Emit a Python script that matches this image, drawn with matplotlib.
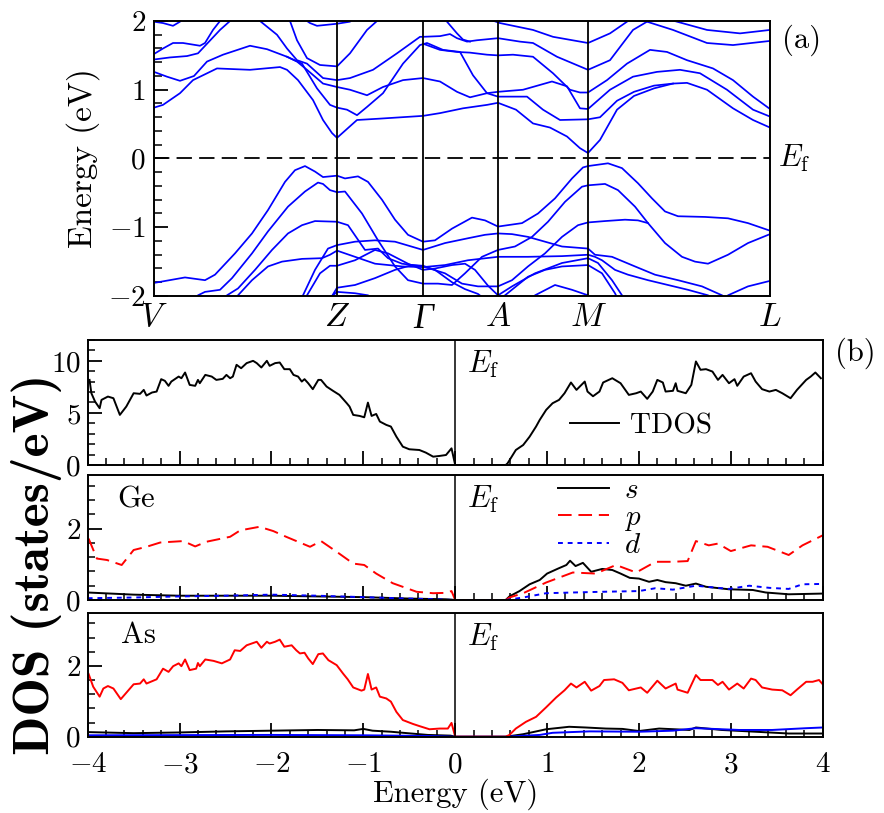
import numpy as np
import matplotlib
matplotlib.use("Agg")
import matplotlib.pyplot as plt
from matplotlib.ticker import MultipleLocator

plt.rcParams['font.family'] = 'serif'
plt.rcParams['font.serif'] = ['cmr10']
plt.rcParams['mathtext.fontset'] = 'cm'
plt.rcParams['axes.formatter.use_mathtext'] = True
plt.rcParams['axes.unicode_minus'] = True

# ---------------- band structure data (k-path coordinate, energy eV) -------------
kpoints = [0, 183, 269, 344, 434, 616]
klabels = ['$V$', '$Z$', 'Γ', '$A$', '$M$', '$L$']

cb1 = [(0,0.74),(9,0.78),(26,0.95),(39,1.14),(63,1.31),(96,1.29),(126,1.33),(133,1.29),(144,1.14),(159,0.85),
       (169,0.56),(178,0.37),(183,0.30),(203,0.56),(226,0.58),(269,0.62),(286,0.66),(309,0.73),(333,0.78),(344,0.81),
       (362,0.71),(379,0.51),(396,0.45),(413,0.32),(426,0.15),(434,0.08),(446,0.27),(463,0.71),(480,0.91),(500,1.02),
       (519,1.09),(533,1.10),(553,1.00),(579,0.73),(599,0.56),(616,0.45)]
cb2 = [(0,1.26),(13,1.19),(26,1.13),(40,1.20),(53,1.41),(69,1.51),(96,1.64),(113,1.59),(133,1.48),(143,1.41),
       (153,1.29),(169,1.09),(183,1.04),(196,1.00),(213,0.92),(229,1.04),(249,1.14),(269,1.17),(286,1.12),(303,0.97),
       (316,0.89),(333,0.95),(344,0.97),(369,1.00),(398,1.12),(413,1.05),(426,0.73),(434,0.72),(456,1.00),(479,1.19),
       (503,1.26),(526,1.29),(546,1.24),(573,1.00),(599,0.71),(616,0.61)]
cb3 = [(133,1.48),(148,1.38),(163,1.02),(176,0.78),(183,0.74),(193,0.71),(203,0.63),(213,0.75),(229,0.95),(249,1.38),
       (266,1.65),(273,1.68),(289,1.58),(306,1.55),(319,1.21),(333,0.95),(344,0.90),(373,0.90),(389,0.71),(406,0.56),
       (434,0.57),(446,0.60),(463,0.84),(480,0.97),(500,1.06),(519,1.09)]
cb4 = [(104,2.05),(106,2.00),(123,1.80),(133,1.60),(143,1.43),(153,1.38),(169,1.17),(183,1.14),(196,1.17),(219,1.29),
       (243,1.53),(266,1.77),(269,1.77),(286,1.78),(296,1.81),(303,1.75),(313,1.70),(323,1.72),(344,1.75),(366,1.70),
       (379,1.68),(403,1.48),(434,1.29),(456,1.43),(479,1.87),(493,1.99),(498,2.05)]
cb5 = [(133,2.05),(136,2.00),(143,1.72),(153,1.46),(166,1.36),(183,1.34),(196,1.53),(213,1.87),(223,2.00),(227,2.05)]
cb6 = [(148,2.05),(156,1.97),(163,1.93),(183,1.96),(196,1.99),(200,2.05)]
cb7 = [(269,1.67),(286,1.58),(303,1.55),(316,1.54),(333,1.51),(344,1.50),(359,1.51),(379,1.48),(399,1.24),(416,1.00),
       (426,0.96),(434,0.96),(453,1.14),(473,1.38),(496,1.58),(513,1.55),(533,1.43),(559,1.31),(579,1.14),(599,0.90),
       (616,0.72)]
cb8 = [(289,2.05),(293,1.99),(303,1.82),(309,1.73),(316,1.70)]
cb9 = [(330,2.05),(346,1.97),(379,1.87),(399,1.77),(434,1.68),(456,1.82),(473,1.99),(478,2.05)]
cb10 = [(509,2.05),(523,1.99),(553,1.87),(586,1.82),(616,1.87)]
cb11 = [(489,2.05),(493,1.99),(519,1.87),(553,1.68),(579,1.65),(616,1.71)]
cb12 = [(0,1.52),(9,1.60),(19,1.68),(29,1.68),(46,1.64),(51,1.68),(59,1.87),(66,2.00),(68,2.05)]
cb13 = [(0,1.44),(16,1.47),(33,1.49),(44,1.53),(55,1.70),(66,1.87),(76,2.00),(78,2.05)]
cb14 = [(0,1.99),(9,1.97),(19,1.93),(26,1.99),(28,2.05)]

vb1 = [(0,-1.81),(31,-1.73),(51,-1.77),(61,-1.69),(81,-1.38),(98,-1.09),(114,-0.75),(131,-0.34),(141,-0.17),(151,-0.11),
       (161,-0.19),(169,-0.27),(183,-0.25),(191,-0.29),(204,-0.26),(214,-0.34),(228,-0.60),(241,-0.89),(254,-1.11),
       (269,-1.21),(281,-1.19),(298,-1.02),(318,-0.86),(331,-0.90),(344,-0.99),(368,-0.94),(384,-0.80),(401,-0.58),
       (418,-0.29),(429,-0.13),(434,-0.11),(454,-0.07),(468,-0.14),(484,-0.36),(498,-0.58),(511,-0.77),(524,-0.84),
       (551,-0.85),(574,-0.87),(594,-0.94),(616,-1.05)]
vb2 = [(40,-2.05),(44,-1.99),(51,-1.94),(66,-1.91),(78,-1.74),(98,-1.38),(114,-1.06),(134,-0.70),(151,-0.48),
       (164,-0.35),(169,-0.37),(176,-0.46),(183,-0.49),(191,-0.48),(208,-0.80),(224,-1.19),(241,-1.57),(254,-1.77),
       (269,-1.82),(284,-1.82),(298,-1.84),(311,-1.67),(328,-1.43),(344,-1.33),(361,-1.28),(378,-1.14),(394,-0.92),
       (411,-0.63),(428,-0.41),(434,-0.39),(451,-0.37),(464,-0.46),(481,-0.70),(494,-0.94),(511,-1.23),(528,-1.43),
       (541,-1.50),(554,-1.53),(574,-1.40),(594,-1.23),(616,-1.10)]
vb3 = [(70,-2.05),(73,-1.99),(84,-1.89),(101,-1.62),(118,-1.33),(134,-1.09),(148,-0.97),(161,-0.91),(183,-0.92),
       (194,-0.97),(211,-1.33),(224,-1.31),(234,-1.45),(248,-1.53),(269,-1.57),(291,-1.67),(308,-1.82),(324,-1.86),
       (344,-1.86),(358,-1.77),(374,-1.57),(391,-1.38),(408,-1.14),(424,-0.97),(434,-0.93),(451,-0.91),(471,-0.89),
       (484,-0.90),(494,-0.94)]
vb4 = [(80,-2.05),(84,-1.99),(98,-1.77),(114,-1.57),(128,-1.50),(148,-1.46),(168,-1.45),(176,-1.40),(183,-1.34),
       (201,-1.43),(221,-1.53),(248,-1.57),(269,-1.58),(291,-1.55),(314,-1.48),(344,-1.43),(374,-1.43),(408,-1.42),
       (434,-1.40),(441,-1.43),(448,-1.48),(461,-1.62),(474,-1.69),(494,-1.77),(514,-1.84),(534,-1.91),(554,-1.99),
       (560,-2.05)]
vb5 = [(148,-2.05),(149,-1.99),(161,-1.62),(174,-1.31),(183,-1.26),(201,-1.21),(221,-1.19),(241,-1.21),(269,-1.33),
       (291,-1.23),(314,-1.16),(331,-1.11),(344,-1.09),(358,-1.10),(374,-1.14),(391,-1.21),(408,-1.28),(434,-1.31),
       (441,-1.40),(458,-1.43),(481,-1.57),(501,-1.69),(524,-1.77),(548,-1.86),(568,-1.99),(575,-2.05)]
vb6 = [(151,-2.05),(153,-1.99),(166,-1.67),(176,-1.56),(183,-1.56),(201,-1.48),(221,-1.33),(234,-1.38),(254,-1.53),
       (269,-1.62),(281,-1.60),(298,-1.55),(311,-1.53),(321,-1.62),(334,-1.85),(344,-1.99),(358,-1.86),(381,-1.67),
       (408,-1.52),(434,-1.45),(444,-1.52),(458,-1.77),(468,-1.99),(471,-2.05)]
vb7 = [(176,-2.05),(183,-1.88),(201,-1.84),(221,-1.74),(241,-1.62),(258,-1.55),(269,-1.56),(281,-1.62),(298,-1.80),
       (311,-1.90),(324,-1.97),(331,-2.05)]
vb8 = [(348,-2.05),(351,-1.99),(374,-1.72),(391,-1.62),(408,-1.57),(434,-1.55),(448,-1.67),(461,-1.96),(464,-2.05)]
vb9 = [(174,-2.05),(183,-1.94),(201,-1.96),(214,-1.99),(220,-2.05)]
vb10 = [(378,-2.05),(381,-1.99),(401,-1.84),(418,-1.91),(434,-1.99),(440,-2.05)]
vb11 = [(571,-2.05),(574,-1.99),(594,-1.86),(616,-1.78)]

bands = [cb1, cb2, cb3, cb4, cb5, cb6, cb7, cb8, cb9, cb10, cb11, cb12, cb13, cb14,
         vb1, vb2, vb3, vb4, vb5, vb6, vb7, vb8, vb9, vb10, vb11]

# ---------------- DOS data --------------------
tdos_e = [-3.98,-3.96,-3.92,-3.87,-3.85,-3.78,-3.72,-3.65,-3.58,-3.50,-3.43,-3.39,-3.36,-3.30,-3.25,-3.20,-3.16,
          -3.12,-3.09,-3.01,-2.98,-2.94,-2.89,-2.83,-2.80,-2.78,-2.72,-2.65,-2.60,-2.53,-2.49,-2.45,-2.42,-2.38,-2.33,
          -2.27,-2.20,-2.16,-2.11,-2.05,-2.02,-1.96,-1.91,-1.86,-1.80,-1.76,-1.71,-1.67,-1.64,-1.60,-1.55,-1.49,-1.46,
          -1.40,-1.33,-1.26,-1.18,-1.15,-1.11,-1.04,-0.99,-0.95,-0.91,-0.86,-0.82,-0.75,-0.70,-0.64,-0.57,-0.50,-0.39,
          -0.32,-0.24,-0.17,-0.10,-0.04,0.0,
          0.55,0.57,0.66,0.74,0.81,0.88,0.92,0.99,1.06,1.13,1.19,1.26,1.32,1.41,1.44,1.50,1.57,1.61,1.71,1.80,1.89,
          1.97,2.02,2.09,2.15,2.20,2.26,2.29,2.37,2.40,2.42,2.51,2.57,2.62,2.67,2.73,2.80,2.86,2.91,2.98,3.04,3.07,
          3.14,3.22,3.27,3.34,3.42,3.49,3.56,3.65,3.72,3.82,3.87,3.92,3.98]
tdos = [8.17,6.89,6.09,5.45,6.25,6.57,6.41,4.81,5.61,6.89,6.83,7.21,6.67,6.96,7.05,8.24,8.08,7.60,8.01,8.49,8.33,
        8.88,7.69,7.60,8.17,7.85,8.65,8.49,8.17,8.27,8.65,8.33,8.49,9.62,9.29,9.78,10.0,9.78,9.36,10.0,9.52,9.78,
        9.84,9.20,9.20,8.65,8.49,8.01,8.24,7.85,7.28,8.17,8.17,7.53,7.12,6.73,5.93,5.61,4.81,4.71,4.58,5.99,4.71,
        4.90,4.17,3.85,3.69,2.72,1.76,1.51,1.44,1.19,0.80,0.87,0.96,1.60,0.0,
        0.0,0.16,1.44,1.92,2.72,3.69,4.33,5.29,5.93,6.25,6.89,7.92,7.21,8.01,7.05,6.60,7.05,7.92,8.33,7.85,6.73,
        6.89,7.05,6.35,7.05,8.17,7.92,7.05,7.12,7.85,7.12,6.89,7.69,9.94,9.14,9.20,8.97,8.17,8.65,7.85,8.24,7.60,
        8.49,8.81,8.01,7.28,7.05,7.21,6.89,6.41,7.21,8.17,8.49,8.88,8.33]

ge_s_e = [-4.0,-3.5,-3.0,-2.5,-2.0,-1.5,-1.0,-0.5,-0.1,0.0,0.55,0.59,0.70,0.81,0.92,1.00,1.12,1.21,1.25,1.31,1.39,
          1.48,1.60,1.71,1.80,1.90,2.00,2.11,2.20,2.29,2.40,2.51,2.62,2.73,2.98,3.24,3.38,3.63,3.82,4.0]
ge_s = [0.21,0.15,0.12,0.12,0.12,0.10,0.08,0.04,0.02,0.0,0.0,0.10,0.25,0.44,0.56,0.74,0.88,0.98,1.10,0.95,1.04,
        0.79,0.87,0.84,0.74,0.62,0.60,0.51,0.56,0.50,0.47,0.40,0.46,0.37,0.30,0.28,0.21,0.16,0.17,0.18]
ge_p_e = [-3.99,-3.90,-3.79,-3.63,-3.50,-3.36,-3.21,-2.96,-2.83,-2.71,-2.45,-2.34,-2.13,-1.98,-1.84,-1.58,-1.46,
          -1.29,-1.11,-0.99,-0.86,-0.68,-0.42,-0.24,-0.10,-0.04,0.0,0.55,0.59,0.74,0.99,1.28,1.53,1.75,1.97,2.18,
          2.37,2.53,2.62,2.76,2.86,3.00,3.22,3.40,3.63,3.78,4.0]
ge_p = [1.72,1.16,1.12,0.98,1.40,1.49,1.61,1.65,1.50,1.63,1.77,1.95,2.05,1.93,1.77,1.49,1.65,1.35,1.02,0.98,0.74,
        0.47,0.23,0.19,0.20,0.25,0.0,0.0,0.07,0.19,0.49,0.77,0.74,0.98,0.77,1.07,1.07,1.09,1.65,1.53,1.58,1.37,1.53,
        1.49,1.26,1.53,1.81]
ge_d_e = [-4.0,-3.5,-3.0,-2.5,-2.0,-1.5,-1.0,-0.5,-0.2,0.0,0.55,0.74,0.99,1.28,1.60,2.00,2.18,2.37,2.62,2.98,3.20,
          3.42,3.63,3.78,4.0]
ge_d = [0.05,0.07,0.10,0.12,0.15,0.12,0.08,0.04,0.02,0.0,0.0,0.07,0.19,0.21,0.23,0.25,0.33,0.29,0.40,0.31,0.40,
        0.34,0.31,0.44,0.45]

as_s_e = [-4.0,-3.5,-3.0,-2.5,-2.0,-1.5,-1.1,-1.0,-0.9,-0.7,-0.3,-0.05,0.0,0.55,0.74,0.99,1.24,1.42,1.64,1.82,2.00,
          2.22,2.55,2.62,2.90,3.27,3.63,4.0]
as_s = [0.13,0.10,0.12,0.15,0.17,0.19,0.18,0.22,0.17,0.14,0.05,0.03,0.0,0.0,0.07,0.21,0.28,0.26,0.23,0.22,0.16,0.23,
        0.19,0.26,0.19,0.14,0.09,0.09]
as_p_e = [-3.99,-3.94,-3.87,-3.83,-3.78,-3.72,-3.64,-3.58,-3.50,-3.43,-3.39,-3.36,-3.25,-3.18,-3.12,-3.07,-3.01,-2.98,
          -2.94,-2.89,-2.82,-2.80,-2.78,-2.72,-2.63,-2.54,-2.45,-2.40,-2.34,-2.27,-2.16,-2.11,-2.05,-2.02,-1.96,-1.91,
          -1.86,-1.78,-1.73,-1.69,-1.64,-1.60,-1.55,-1.49,-1.44,-1.38,-1.29,-1.22,-1.17,-1.11,-1.02,-0.99,-0.95,-0.91,
          -0.86,-0.82,-0.75,-0.70,-0.64,-0.57,-0.46,-0.39,-0.28,-0.17,-0.08,-0.04,0.0,
          0.55,0.59,0.66,0.77,0.88,0.99,1.10,1.19,1.26,1.32,1.41,1.48,1.57,1.62,1.73,1.82,1.89,2.02,2.09,2.20,2.29,
          2.40,2.42,2.53,2.62,2.67,2.80,2.86,2.91,2.98,3.07,3.14,3.22,3.27,3.34,3.45,3.56,3.65,3.72,3.82,3.89,3.96,4.0]
as_p = [1.77,1.41,1.13,1.36,1.43,1.36,1.06,1.24,1.48,1.50,1.62,1.50,1.62,1.92,1.83,1.99,2.07,1.99,2.18,1.88,1.92,
        2.08,1.99,2.18,2.14,2.07,2.18,2.44,2.42,2.58,2.68,2.51,2.68,2.63,2.68,2.74,2.54,2.58,2.44,2.35,2.37,2.21,
        2.05,2.33,2.35,2.16,2.02,1.78,1.62,1.39,1.30,1.33,1.77,1.33,1.39,1.13,1.08,0.99,0.70,0.47,0.36,0.30,0.21,
        0.23,0.23,0.39,0.0,
        0.0,0.05,0.23,0.42,0.56,0.83,1.11,1.31,1.50,1.39,1.55,1.30,1.43,1.60,1.62,1.52,1.31,1.39,1.24,1.58,1.36,
        1.50,1.33,1.24,1.74,1.60,1.60,1.46,1.55,1.33,1.50,1.36,1.64,1.60,1.39,1.33,1.31,1.17,1.33,1.55,1.55,1.60,1.48]
as_d_e = [-4.0,-2.0,-1.0,-0.3,0.0,0.55,0.92,1.06,1.46,2.00,2.37,2.62,3.09,3.45,3.82,4.0]
as_d = [0.04,0.05,0.04,0.02,0.0,0.0,0.05,0.11,0.15,0.14,0.17,0.24,0.19,0.19,0.24,0.26]

# ---------------- figure --------------------
W, H = 884, 813
fig = plt.figure(figsize=(W/100, H/100), dpi=100)

def fr(x0, y0, x1, y1):
    return [x0/W, 1-y1/H, (x1-x0)/W, (y1-y0)/H]

tick_fs = 21
spine_lw = 1.4

# (a) band structure
ax = fig.add_axes(fr(154, 21, 770, 296))
for b in bands:
    k = [p[0] for p in b]
    e = [p[1] for p in b]
    ax.plot(k, e, color='#0000ff', lw=1.25)
for kp in kpoints[1:-1]:
    ax.axvline(kp, color='black', lw=1.3)
ax.axhline(0, color='black', lw=1.3, linestyle=(0, (8.5, 4)))
ax.set_xlim(kpoints[0], kpoints[-1])
ax.set_ylim(-2, 2)
ax.set_xticks(kpoints)
ax.set_xticklabels(klabels, fontsize=24)
for t in ax.get_xticklabels():
    if t.get_text() == 'Γ':
        t.set_fontfamily('Liberation Serif')
        t.set_fontstyle('italic')
        t.set_fontsize(25)
ax.tick_params(axis='x', length=0, pad=5)
ax.yaxis.set_major_locator(MultipleLocator(1))
ax.yaxis.set_minor_locator(MultipleLocator(0.2))
ax.tick_params(axis='y', which='major', direction='in', length=10, width=1.3, labelsize=tick_fs, pad=6)
ax.tick_params(axis='y', which='minor', direction='in', length=6, width=1.1)
for s in ax.spines.values():
    s.set_linewidth(spine_lw)
ax.set_ylabel('Energy (eV)', fontsize=24, labelpad=6)
ax.text(1.013, 0.5, r'$E_{\mathrm{f}}$', transform=ax.transAxes, fontsize=22, va='center', ha='left')
ax.text(1.02, 0.93, '(a)', transform=ax.transAxes, fontsize=22, va='center', ha='left')

# (b) DOS panels
ax1 = fig.add_axes(fr(87.7, 340, 822.7, 465))
ax2 = fig.add_axes(fr(87.7, 475, 822.7, 600))
ax3 = fig.add_axes(fr(87.7, 612.7, 822.7, 736.7))

ax1.plot(tdos_e, tdos, color='black', lw=1.4, label='TDOS')
ax1.set_ylim(0, 12)
ax1.yaxis.set_major_locator(MultipleLocator(5))
ax1.yaxis.set_minor_locator(MultipleLocator(1))
ax1.legend(loc='center left', bbox_to_anchor=(0.656, 0.31), frameon=False, fontsize=21,
           handlelength=1.7, handletextpad=0.35, borderaxespad=0, borderpad=0)

ax2.plot(ge_s_e, ge_s, color='black', lw=1.4, label='$s$')
ax2.plot(ge_p_e, ge_p, color='red', lw=1.4, linestyle=(0, (7, 3.5)), label='$p$')
ax2.plot(ge_d_e, ge_d, color='blue', lw=1.4, linestyle=(0, (2.5, 2.5)), label='$d$')
ax2.legend(loc='upper left', bbox_to_anchor=(0.636, 1.0), frameon=False, fontsize=21,
           handlelength=1.75, handletextpad=0.5, labelspacing=0.0, borderaxespad=0, borderpad=0.1)
ax2.text(0.04, 0.80, 'Ge', transform=ax2.transAxes, fontsize=22, va='center', ha='left')

ax3.plot(as_s_e, as_s, color='black', lw=1.4)
ax3.plot(as_d_e, as_d, color='blue', lw=1.4)
ax3.plot(as_p_e, as_p, color='red', lw=1.4)
ax3.text(0.045, 0.82, 'As', transform=ax3.transAxes, fontsize=22, va='center', ha='left')

for a in (ax2, ax3):
    a.set_ylim(0, 3.5)
    a.yaxis.set_major_locator(MultipleLocator(2))
    a.yaxis.set_minor_locator(MultipleLocator(0.4))

for a in (ax1, ax2, ax3):
    a.set_xlim(-4, 4)
    a.axvline(0, color='black', lw=1.1)
    a.xaxis.set_major_locator(MultipleLocator(1))
    a.xaxis.set_minor_locator(MultipleLocator(0.2))
    a.tick_params(which='major', direction='in', length=10, width=1.3, labelsize=tick_fs, pad=5)
    a.tick_params(which='minor', direction='in', length=5, width=1.1)
    a.tick_params(axis='x', pad=11)
    for s in a.spines.values():
        s.set_linewidth(spine_lw)
    a.text(0.516, 0.93, r'$E_{\mathrm{f}}$', transform=a.transAxes, fontsize=22, va='top', ha='left')

ax1.tick_params(axis='x', labelbottom=False)
ax2.tick_params(axis='x', labelbottom=False)
ax3.set_xlabel('Energy (eV)', fontsize=22, labelpad=0)

fig.text(1 - 8/W, 1 - 353/H, '(b)', fontsize=22, va='center', ha='right')
fig.text(37/W, 1 - 564/H, 'DOS (states/eV)', family='cmb10', fontsize=37, rotation=90,
         va='center', ha='center')

fig.savefig('out.png', dpi=100)
